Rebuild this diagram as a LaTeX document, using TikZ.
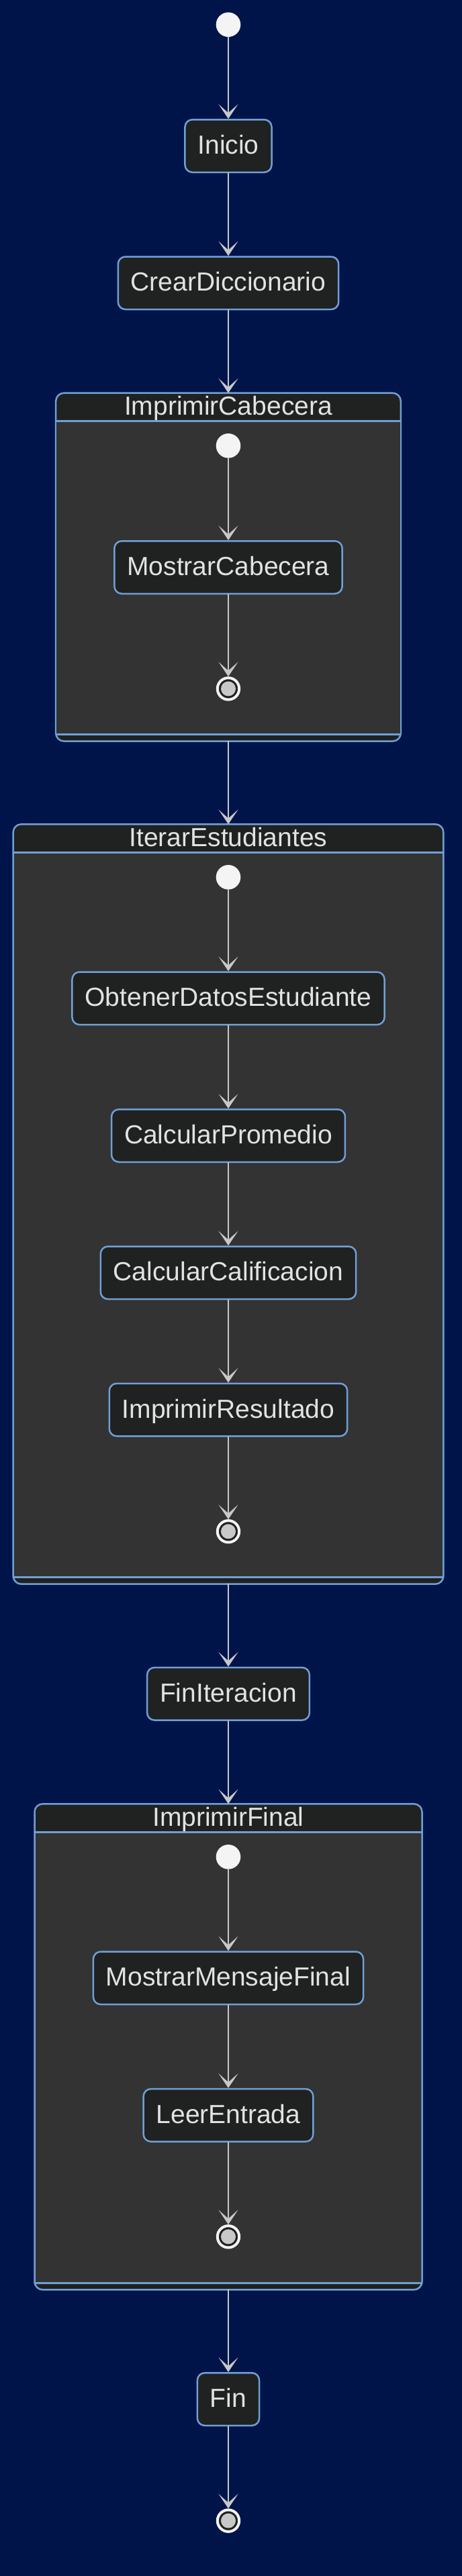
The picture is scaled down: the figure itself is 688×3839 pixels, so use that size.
\documentclass[tikz,border=0pt]{standalone}
\usepackage{fontspec}
\setmainfont{Liberation Sans}
\usetikzlibrary{arrows.meta}
\definecolor{Fondo}{HTML}{00144A}
\definecolor{Cuerpo}{HTML}{333333}
\definecolor{Relleno}{HTML}{202121}
\definecolor{Borde}{HTML}{6FA0D6}
\definecolor{Texto}{HTML}{E2E2E2}
\definecolor{Flecha}{HTML}{C8C8C8}
\definecolor{Blanco}{HTML}{F4F4F4}
% composite state: name, top, width, height, title
\newcommand{\compuesto}[5]{%
  \node[caja compuesta,minimum width=#3pt,minimum height=#4pt] (#1) at (340,#2) {};
  \fill[Cuerpo] ([xshift=1.25pt,yshift=-42pt]#1.north west) rectangle ([xshift=-1.25pt,yshift=10pt]#1.south east);
  \draw[Borde,line width=2.5pt] ([yshift=-42pt]#1.north west) -- ([yshift=-42pt]#1.north east)
    ([yshift=10pt]#1.south west) -- ([yshift=10pt]#1.south east);
  \node[titulo] at ([yshift=-21pt]#1.north) {#5};}

\begin{document}
\begin{tikzpicture}[x=1pt,y=-1pt,line cap=round,line join=round,
  letra/.style={text=Texto,font=\fontsize{39}{47}\selectfont,text height=28pt,text depth=4pt},
  estado/.style={letra,draw=Borde,fill=Relleno,line width=2.5pt,rounded corners=11pt,
    inner xsep=19pt,inner ysep=0pt,minimum height=78.5pt},
  titulo/.style={letra,inner sep=0pt},
  caja compuesta/.style={draw=Borde,fill=Relleno,line width=2.5pt,rounded corners=12pt,
    inner sep=0pt,outer sep=0pt,anchor=north},
  inicial/.style={circle,fill=Blanco,inner sep=0pt,minimum size=36.6pt},
  final/.style={circle,draw=Blanco,fill=Relleno,line width=4pt,inner sep=0pt,minimum size=32.4pt,
    path picture={\fill[Flecha] (path picture bounding box.center) circle (11pt);}},
  flecha/.style={draw=Flecha,line width=2.2pt,-{Stealth[length=21.7pt,width=29pt,inset=13pt]}}]
  \fill[Fondo] (0,0) rectangle (688,3839);
  \useasboundingbox (0,0) rectangle (688,3839);

  % composite states
  \compuesto{cab}{585.7}{513.6}{518.9}{ImprimirCabecera}
  \compuesto{iter}{1228.3}{640.7}{1132.4}{IterarEstudiantes}
  \compuesto{impfin}{2688.3}{577}{724}{ImprimirFinal}

  % top level
  \node[inicial] (ini) at (340,36.7) {};
  \node[estado] (inicio) at (340,217.5) {Inicio};
  \node[estado] (crear) at (340,421.8) {CrearDiccionario};
  \node[estado] (finiter) at (340,2524.3) {FinIteracion};
  \node[estado] (fin) at (340,3575.5) {Fin};
  \node[final] (fin0) at (340,3756.6) {};

  % inside ImprimirCabecera
  \node[inicial] (cabini) at (340,664.3) {};
  \node[estado] (mostrar) at (340,845.5) {MostrarCabecera};
  \node[final] (cabfin) at (340,1026.4) {};

  % inside IterarEstudiantes
  \node[inicial] (iterini) at (340,1307.3) {};
  \node[estado] (obtener) at (340,1487.8) {ObtenerDatosEstudiante};
  \node[estado] (promedio) at (340,1692.5) {CalcularPromedio};
  \node[estado] (califica) at (340,1896.8) {CalcularCalificacion};
  \node[estado] (resultado) at (340,2101) {ImprimirResultado};
  \node[final] (iterfin) at (340,2282.3) {};

  % inside ImprimirFinal
  \node[inicial] (impini) at (340,2767.3) {};
  \node[estado] (mensaje) at (340,2947.8) {MostrarMensajeFinal};
  \node[estado] (leer) at (340,3152.3) {LeerEntrada};
  \node[final] (impfin0) at (340,3333.3) {};

  \foreach \a/\b in {ini/inicio,inicio/crear,crear/cab,cab/iter,iter/finiter,finiter/impfin,impfin/fin,fin/fin0,
    cabini/mostrar,mostrar/cabfin,
    iterini/obtener,obtener/promedio,promedio/califica,califica/resultado,resultado/iterfin,
    impini/mensaje,mensaje/leer,leer/impfin0}
    \draw[flecha] (\a) -- (\b);
\end{tikzpicture}
\end{document}
